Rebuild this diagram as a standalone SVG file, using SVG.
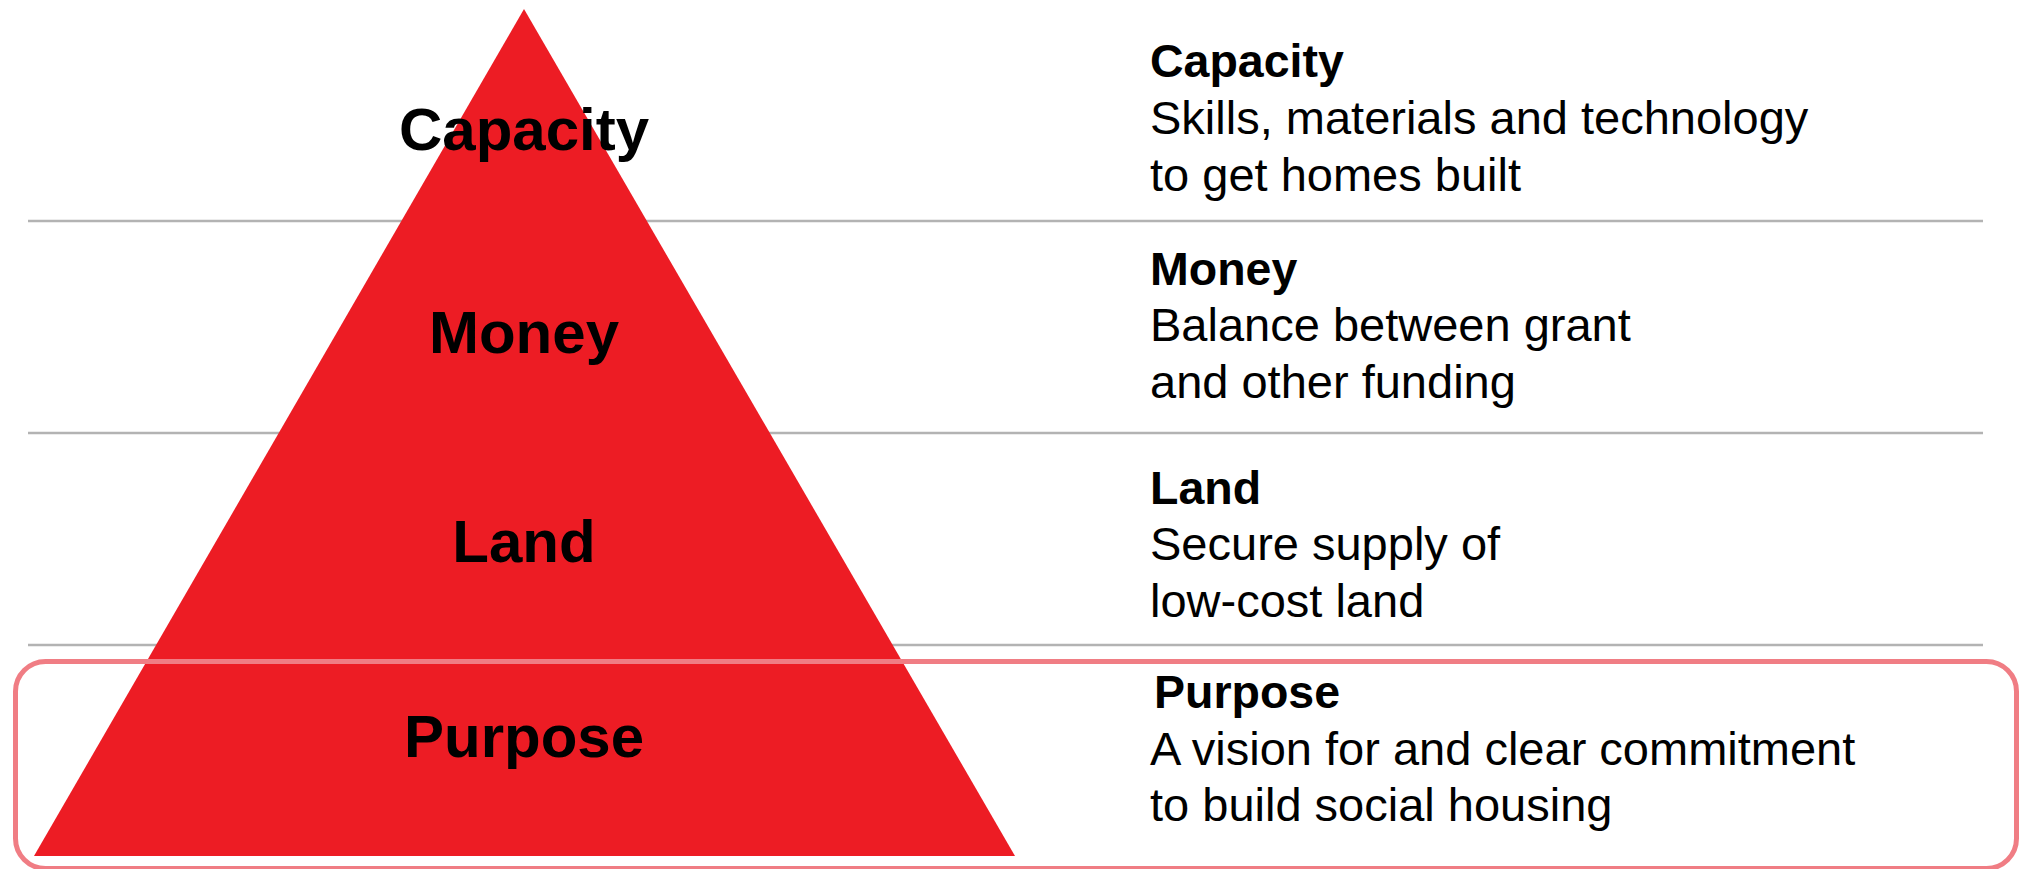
<svg xmlns="http://www.w3.org/2000/svg" width="2021" height="869" viewBox="0 0 2021 869">
<style>
.sep{stroke:#b3b3b3;stroke-width:2.5;fill:none}
.lbl{font-family:"Liberation Sans",Arial,sans-serif;font-weight:bold;font-size:60px;fill:#000;text-anchor:middle}
.hd{font-family:"Liberation Sans",Arial,sans-serif;font-weight:bold;font-size:46.5px;fill:#000}
.tx{font-family:"Liberation Sans",Arial,sans-serif;font-size:47px;fill:#000}
</style>
<rect width="2021" height="869" fill="#fff"/>
<g id="separators">
<line class="sep" x1="28" y1="221" x2="1983" y2="221"/>
<line class="sep" x1="28" y1="433" x2="1983" y2="433"/>
<line class="sep" x1="28" y1="645" x2="1983" y2="645"/>
</g>
<g id="pyramid">
<polygon points="524,9 34,856 1015,856" fill="#ED1C24"/>
</g>
<g id="highlight">
<rect x="15.5" y="661.5" width="2001" height="207" rx="30" ry="30" fill="none" stroke="#F07D84" stroke-width="5"/>
</g>
<g id="capacity">
<text class="lbl" x="524" y="150">Capacity</text>
<text class="hd" x="1150" y="77">Capacity</text>
<text class="tx" x="1150" y="134">Skills, materials and technology</text>
<text class="tx" x="1150" y="191">to get homes built</text>
</g>
<g id="money">
<text class="lbl" x="524" y="353">Money</text>
<text class="hd" x="1150" y="285">Money</text>
<text class="tx" x="1150" y="341">Balance between grant</text>
<text class="tx" x="1150" y="398">and other funding</text>
</g>
<g id="land">
<text class="lbl" x="524" y="562">Land</text>
<text class="hd" x="1150" y="504">Land</text>
<text class="tx" x="1150" y="560">Secure supply of</text>
<text class="tx" x="1150" y="617">low-cost land</text>
</g>
<g id="purpose">
<text class="lbl" x="524" y="757">Purpose</text>
<text class="hd" x="1154" y="708">Purpose</text>
<text class="tx" x="1150" y="765">A vision for and clear commitment</text>
<text class="tx" x="1150" y="821">to build social housing</text>
</g>
</svg>
